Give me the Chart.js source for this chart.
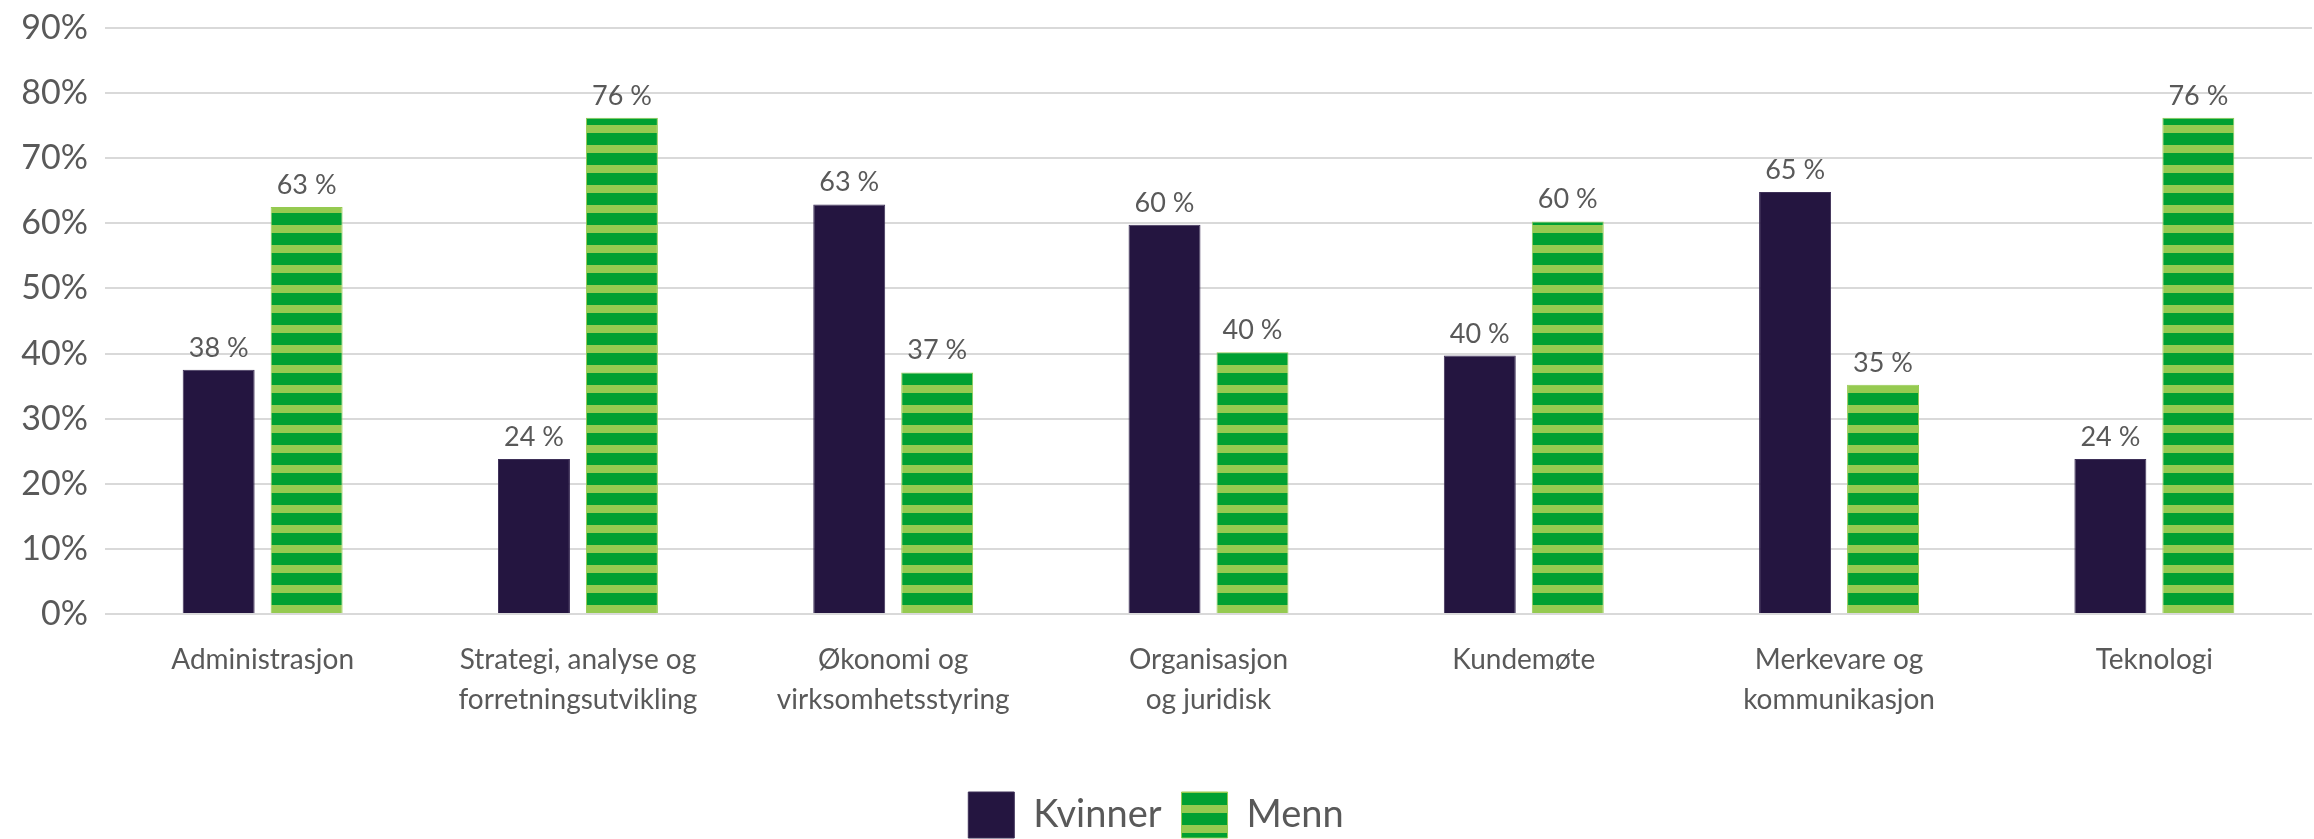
<!DOCTYPE html>
<html>
<head>
<meta charset="utf-8">
<script src="https://cdn.jsdelivr.net/npm/chart.js@4.4.1/dist/chart.umd.min.js"></script>
<style>
  html, body { margin: 0; padding: 0; background: #ffffff; }
  #wrap { width: 2314px; height: 839px; }
</style>
</head>
<body>
<div id="wrap"><canvas id="c" width="2314" height="839"></canvas></div>
<script>
const categories = [
  "Administrasjon",
  ["Strategi, analyse og", "forretningsutvikling"],
  ["Økonomi og", "virksomhetsstyring"],
  ["Organisasjon", "og juridisk"],
  "Kundemøte",
  ["Merkevare og", "kommunikasjon"],
  "Teknologi"
];
const kvinner = [37.5, 23.8, 62.9, 59.8, 39.7, 64.8, 23.8];
const menn = [62.5, 76.2, 37.1, 40.2, 60.3, 35.2, 76.2];
const seriesNames = ["Kvinner", "Menn"];
const yTicks = [0, 10, 20, 30, 40, 50, 60, 70, 80, 90];

const FONT = "Lato, 'Noto Sans', sans-serif";
const TEXT = "#595959";

function makeStripes() {
  const pc = document.createElement('canvas');
  pc.width = 8; pc.height = 20;
  const g = pc.getContext('2d');
  g.fillStyle = '#00a032';
  g.fillRect(0, 0, 8, 20);
  g.fillStyle = '#95ca50';
  g.fillRect(0, 5, 8, 8);
  return g.createPattern(pc, 'repeat');
}
const ctx = document.getElementById('c').getContext('2d');
const stripes = makeStripes();

const valueLabels = {
  id: 'valueLabels',
  afterDatasetsDraw(chart) {
    const c = chart.ctx;
    c.save();
    c.font = "27px " + FONT;
    c.fillStyle = TEXT;
    c.textAlign = 'center';
    c.textBaseline = 'alphabetic';
    chart.data.datasets.forEach((ds, di) => {
      const meta = chart.getDatasetMeta(di);
      meta.data.forEach((bar, i) => {
        c.fillText(Math.round(ds.data[i]) + ' %', bar.x, bar.y - 13);
      });
    });
    c.restore();
  }
};

const legendShift = {
  id: 'legendShift',
  afterLayout(chart) {
    if (chart.legend) { chart.legend.top += 9; chart.legend.bottom += 9; }
  }
};

new Chart(ctx, {
  type: 'bar',
  data: {
    labels: categories,
    datasets: [
      { label: seriesNames[0], data: kvinner, backgroundColor: '#241540', borderColor: '#3e3058', borderWidth: 1 },
      { label: seriesNames[1], data: menn, backgroundColor: stripes, borderColor: '#95ca50', borderWidth: 1 }
    ]
  },
  options: {
    responsive: false,
    animation: false,
    devicePixelRatio: 1,
    categoryPercentage: 0.558,
    barPercentage: 0.818,
    layout: { padding: { top: 28, right: 2, left: 0, bottom: 0 } },
    plugins: {
      tooltip: { enabled: false },
      legend: {
        position: 'bottom',
        labels: {
          boxWidth: 46, boxHeight: 46, padding: 20,
          color: TEXT,
          font: { family: FONT, size: 38 }
        }
      }
    },
    scales: {
      x: {
        grid: { display: false },
        border: { display: false },
        ticks: {
          color: TEXT, maxRotation: 0, autoSkip: false, padding: 18,
          font: { family: FONT, size: 28, lineHeight: 1.43 }
        },
        afterFit(scale) { scale.height = 149; }
      },
      y: {
        min: 0, max: 90,
        afterBuildTicks(scale) { scale.ticks = yTicks.map(v => ({ value: v })); },
        grid: { color: '#d9d9d9', lineWidth: 2, drawTicks: false },
        border: { display: false },
        ticks: {
          color: TEXT, padding: 17,
          font: { family: FONT, size: 34 },
          callback: (v) => v + '%'
        },
        afterFit(scale) { scale.width = 105; scale.paddingTop = 0; scale.paddingBottom = 0; }
      }
    }
  },
  plugins: [valueLabels, legendShift]
});
</script>
</body>
</html>
